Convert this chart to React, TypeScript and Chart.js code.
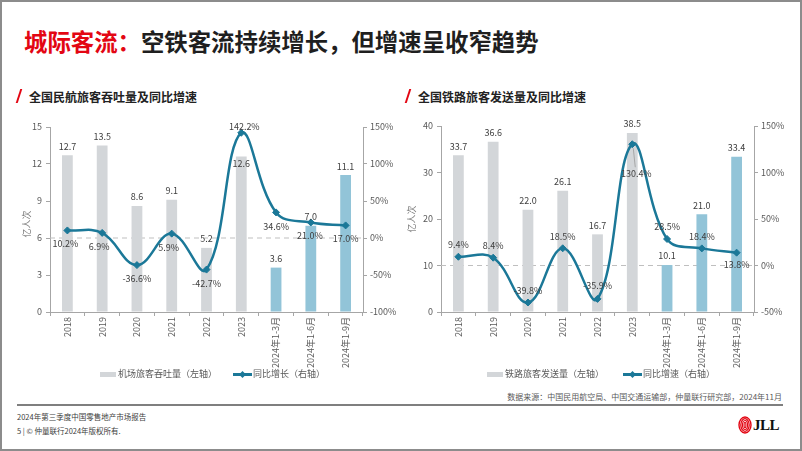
import React, { useEffect, useRef } from "react";
import { Chart, registerables } from "chart.js";

Chart.register(...registerables);

// ---------- data ----------
const categories = ["2018", "2019", "2020", "2021", "2022", "2023", "2024年1-3月", "2024年1-6月", "2024年1-9月"];
const airPassengers = [12.7, 13.5, 8.6, 9.1, 5.2, 12.6, 3.6, 7.0, 11.1];
const airGrowth = [10.2, 6.9, -36.6, 5.9, -42.7, 142.2, 34.6, 21.0, 17.0];
const railPassengers = [33.7, 36.6, 22.0, 26.1, 16.7, 38.5, 10.1, 21.0, 33.4];
const railGrowth = [9.4, 8.4, -39.8, 18.5, -35.9, 130.4, 28.5, 18.4, 13.8];
const airLeftTicks = [0, 3, 6, 9, 12, 15];
const airRightTicks = [-100, -50, 0, 50, 100, 150];
const railLeftTicks = [0, 10, 20, 30, 40];
const railRightTicks = [-50, 0, 50, 100, 150];

// ---------- styles ----------
const FONT = '"Noto Sans CJK SC", "Noto Sans", sans-serif';
const GRAY_BAR = "#d3d6d9";
const BLUE_BAR = "#92c4d8";
const LINE = "#1b7898";
const RED = "#e30613";
const AXIS = "#a6a6a6";
const TICK_TXT = "#595959";
const LABEL_TXT = "#404040";

type ChartProps = {
  bars: number[];
  growth: number[];
  leftTicks: number[];
  rightTicks: number[];
  barDy: number[];
  lineDy: number[];
  lineDx: number[];
  leaderIndex: number;
  left: number;
  top: number;
  width: number;
  height: number;
  axisLeftW: number;
  axisRightW: number;
  padTop: number;
  xAxisH: number;
};

function ComboChart(p: ChartProps) {
  const ref = useRef<HTMLCanvasElement | null>(null);
  useEffect(() => {
    const canvas = ref.current;
    if (!canvas) return;
    const barColors = categories.map((c) => (c.startsWith("2024") ? BLUE_BAR : GRAY_BAR));
    const tickFont = { family: FONT, size: 9 };

    const plugin = {
      id: "customLabels",
      beforeDatasetsDraw(chart: any) {
        const ctx = chart.ctx;
        const { left, right } = chart.chartArea;
        const py = chart.scales.y1.getPixelForValue(0);
        ctx.save();
        ctx.setLineDash([5, 4]);
        ctx.strokeStyle = "#bfbfbf";
        ctx.lineWidth = 1;
        ctx.beginPath();
        ctx.moveTo(left, py);
        ctx.lineTo(right, py);
        ctx.stroke();
        ctx.restore();
      },
      afterDatasetsDraw(chart: any) {
        const ctx = chart.ctx;
        ctx.save();
        ctx.font = `9px ${FONT}`;
        ctx.fillStyle = LABEL_TXT;
        ctx.textAlign = "center";
        ctx.textBaseline = "middle";
        const barMeta = chart.getDatasetMeta(0);
        barMeta.data.forEach((el: any, i: number) => {
          ctx.fillText(p.bars[i].toFixed(1), el.x, el.y + p.barDy[i]);
        });
        const lineMeta = chart.getDatasetMeta(1);
        lineMeta.data.forEach((el: any, i: number) => {
          const lx = el.x + p.lineDx[i];
          const ly = el.y + p.lineDy[i];
          if (i === p.leaderIndex) {
            ctx.save();
            ctx.strokeStyle = "#9a9a9a";
            ctx.lineWidth = 0.8;
            ctx.beginPath();
            ctx.moveTo(el.x + 1, el.y + 4);
            ctx.lineTo(lx - 1, ly - 6);
            ctx.stroke();
            ctx.restore();
          }
          ctx.fillText(p.growth[i].toFixed(1) + "%", lx, ly);
        });
        ctx.restore();
      },
    };

    const lt = p.leftTicks;
    const rt = p.rightTicks;
    const chart = new Chart(canvas, {
      type: "bar",
      data: {
        labels: categories,
        datasets: [
          {
            type: "bar",
            data: p.bars,
            yAxisID: "y",
            backgroundColor: barColors,
            barPercentage: 0.31,
            categoryPercentage: 1,
            order: 1,
          } as any,
          {
            type: "line",
            data: p.growth,
            yAxisID: "y1",
            borderColor: LINE,
            backgroundColor: LINE,
            borderWidth: 2.5,
            tension: 0.4,
            pointStyle: "rectRot",
            pointRadius: 3.5,
            pointBorderWidth: 1,
            order: 0,
          } as any,
        ],
      },
      options: {
        animation: false,
        responsive: false,
        maintainAspectRatio: false,
        devicePixelRatio: 1,
        layout: { padding: { top: p.padTop, left: 0, right: 0, bottom: 0 } },
        plugins: { legend: { display: false }, tooltip: { enabled: false } },
        scales: {
          x: {
            grid: { display: true, drawOnChartArea: false, tickLength: 4, color: AXIS, offset: true },
            border: { color: AXIS },
            ticks: { minRotation: 90, maxRotation: 90, autoSkip: false, font: tickFont, color: TICK_TXT, padding: 1 },
            afterFit: (s: any) => {
              s.height = p.xAxisH;
            },
          },
          y: {
            position: "left",
            min: lt[0],
            max: lt[lt.length - 1],
            ticks: { stepSize: lt[1] - lt[0], font: tickFont, color: TICK_TXT, padding: 4 },
            grid: { drawOnChartArea: false, tickLength: 4, color: AXIS },
            border: { color: AXIS },
            afterFit: (s: any) => {
              s.width = p.axisLeftW;
            },
          },
          y1: {
            position: "right",
            min: rt[0],
            max: rt[rt.length - 1],
            ticks: {
              stepSize: rt[1] - rt[0],
              font: tickFont,
              color: TICK_TXT,
              padding: 3,
              callback: (v: any) => `${v}%`,
            },
            grid: { drawOnChartArea: false, tickLength: 4, color: AXIS },
            border: { color: AXIS },
            afterFit: (s: any) => {
              s.width = p.axisRightW;
            },
          },
        },
      } as any,
      plugins: [plugin],
    });
    return () => chart.destroy();
  }, []);
  return (
    <canvas
      ref={ref}
      width={p.width}
      height={p.height}
      style={{ position: "absolute", left: p.left, top: p.top, width: p.width, height: p.height }}
    />
  );
}

function Legend({ x, y, barText, lineText, gap }: { x: number; y: number; barText: string; lineText: string; gap: number }) {
  const txt: React.CSSProperties = { fontSize: 9, color: "#595959", lineHeight: "12px", whiteSpace: "nowrap" };
  return (
    <div style={{ position: "absolute", left: x, top: y - 6, display: "flex", alignItems: "center", fontFamily: FONT }}>
      <div style={{ width: 16, height: 5, background: GRAY_BAR, marginRight: 2 }} />
      <span style={txt}>{barText}</span>
      <div style={{ width: gap }} />
      <div style={{ position: "relative", width: 19, height: 12, marginRight: 1 }}>
        <div style={{ position: "absolute", left: 0, top: 5, width: 19, height: 2.5, background: LINE }} />
        <div
          style={{
            position: "absolute",
            left: 7,
            top: 3.5,
            width: 5,
            height: 5,
            background: LINE,
            transform: "rotate(45deg)",
          }}
        />
      </div>
      <span style={txt}>{lineText}</span>
    </div>
  );
}

function YTitle({ x, y }: { x: number; y: number }) {
  return (
    <div
      style={{
        position: "absolute",
        left: x - 20,
        top: y - 6,
        width: 40,
        height: 12,
        lineHeight: "12px",
        textAlign: "center",
        fontSize: 9,
        color: "#7f7f7f",
        fontFamily: FONT,
        transform: "rotate(-90deg)",
      }}
    >
      亿人次
    </div>
  );
}

function Subtitle({ x, y, text }: { x: number; y: number; text: string }) {
  return (
    <div style={{ position: "absolute", left: x, top: y - 9, height: 18, display: "flex", alignItems: "center" }}>
      <div style={{ width: 2, height: 14, background: RED, transform: "skewX(-18deg)", marginRight: 9 }} />
      <span style={{ fontSize: 12, fontWeight: 700, color: "#222", fontFamily: FONT, whiteSpace: "nowrap" }}>{text}</span>
    </div>
  );
}

export default function App() {
  return (
    <div
      style={{
        position: "fixed",
        left: 0,
        top: 0,
        width: 802,
        height: 451,
        background: "#fff",
        boxSizing: "border-box",
        border: "2px solid #8c8c8c",
        overflow: "hidden",
        fontFamily: FONT,
      }}
    >
      <div style={{ position: "absolute", left: 22, top: 25, fontSize: 23.4, fontWeight: 700, lineHeight: "28px", whiteSpace: "nowrap" }}>
        <span style={{ color: RED }}>城际客流：</span>
        <span style={{ color: "#1f1f1f" }}>空铁客流持续增长，但增速呈收窄趋势</span>
      </div>
      <Subtitle x={16} y={94} text="全国民航旅客吞吐量及同比增速" />
      <Subtitle x={405} y={94} text="全国铁路旅客发送量及同比增速" />

      <ComboChart
        bars={airPassengers}
        growth={airGrowth}
        leftTicks={airLeftTicks}
        rightTicks={airRightTicks}
        barDy={[-9, -9, -9, -9, -9, 7, -9, -9, -9]}
        lineDy={[13, 14, 13, 14, 14, -6, 14, 13, 13]}
        lineDx={[-2, -3, 0, -3, 0, 3, 0, -1, 0]}
        leaderIndex={-1}
        left={-2}
        top={113}
        width={402}
        height={254}
        axisLeftW={50}
        axisRightW={39}
        padTop={12}
        xAxisH={57}
      />
      <ComboChart
        bars={railPassengers}
        growth={railGrowth}
        leftTicks={railLeftTicks}
        rightTicks={railRightTicks}
        barDy={[-9, -9, -9, -9, -9, -9, -9, -9, -9]}
        lineDy={[-12, -12, -12, -12, -13, 29, -12, -12, 12]}
        lineDx={[0, 0, 0, 0, 0, 4, 0, 0, 0]}
        leaderIndex={5}
        left={398}
        top={113}
        width={402}
        height={254}
        axisLeftW={41}
        axisRightW={48}
        padTop={11}
        xAxisH={57}
      />
      <YTitle x={25} y={222} />
      <YTitle x={410} y={217} />

      <Legend x={98} y={372} barText="机场旅客吞吐量（左轴）" lineText="同比增长（右轴）" gap={16} />
      <Legend x={485} y={372} barText="铁路旅客发送量（左轴）" lineText="同比增速（右轴）" gap={19} />

      <div
        style={{
          position: "absolute",
          right: 18,
          top: 389,
          fontSize: 8,
          color: "#595959",
          lineHeight: "12px",
          whiteSpace: "nowrap",
        }}
      >
        数据来源：中国民用航空局、中国交通运输部，仲量联行研究部，2024年11月
      </div>
      <div style={{ position: "absolute", left: 15, top: 402, width: 766, height: 1.5, background: "#7f7f7f" }} />
      <div style={{ position: "absolute", left: 15, top: 409, fontSize: 7.5, color: "#404040", lineHeight: "12px", whiteSpace: "nowrap" }}>
        2024年第三季度中国零售地产市场报告
      </div>
      <div style={{ position: "absolute", left: 15, top: 423, fontSize: 7.5, color: "#404040", lineHeight: "12px", whiteSpace: "nowrap" }}>
        5 | © 仲量联行2024年版权所有.
      </div>
      <div style={{ position: "absolute", left: 736, top: 414, display: "flex", alignItems: "center" }}>
        <svg width="14" height="18" viewBox="0 0 14 18">
          <ellipse cx="7" cy="9" rx="6" ry="8" fill="none" stroke={RED} strokeWidth="1.4" />
          <ellipse cx="7" cy="9" rx="4.2" ry="6.3" fill="none" stroke={RED} strokeWidth="1.3" />
          <ellipse cx="7" cy="9" rx="2.5" ry="4.5" fill="none" stroke={RED} strokeWidth="1.2" />
          <ellipse cx="7" cy="9" rx="0.9" ry="2.8" fill="none" stroke={RED} strokeWidth="1.1" />
        </svg>
        <span
          style={{
            fontFamily: '"Liberation Serif", "DejaVu Serif", serif',
            fontWeight: 700,
            fontSize: 15,
            color: "#111",
            marginLeft: 1,
            letterSpacing: -0.5,
            lineHeight: "18px",
          }}
        >
          JLL
        </span>
      </div>
    </div>
  );
}
